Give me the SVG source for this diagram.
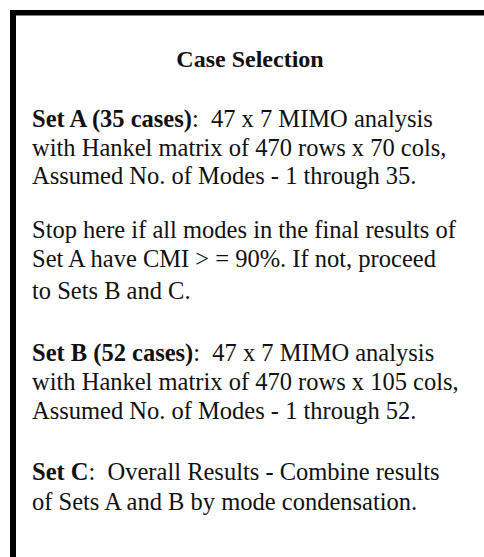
<svg xmlns="http://www.w3.org/2000/svg" width="484" height="557" viewBox="0 0 484 557">
  <style>
    .frame { fill: #000; }
    .t { font-family: "Liberation Serif", "Times New Roman", serif; font-size: 24.5px; fill: #111; white-space: pre; }
    .b { font-weight: bold; }
    .title { font-family: "Liberation Serif", "Times New Roman", serif; font-size: 24px; font-weight: bold; fill: #111; text-anchor: middle; }
  </style>
  <rect width="484" height="557" fill="#fff"/>
  <!-- open frame: heavy left rule and top rule -->
  <g id="frame">
    <rect class="frame" x="10" y="10" width="6" height="547"/>
    <rect class="frame" x="10" y="10" width="474" height="5.5"/>
  </g>
  <g id="case-selection">
    <text class="title" x="250" y="67">Case Selection</text>
    <text class="t" x="32" y="127" xml:space="preserve"><tspan class="b">Set A (35 cases)</tspan>:  47 x 7 MIMO analysis</text>
    <text class="t" x="32" y="155.5">with Hankel matrix of 470 rows x 70 cols,</text>
    <text class="t" x="32" y="184">Assumed No. of Modes - 1 through 35.</text>
    <text class="t" x="32" y="238">Stop here if all modes in the final results of</text>
    <text class="t" x="32" y="267">Set A have CMI &gt; = 90%. If not, proceed</text>
    <text class="t" x="32" y="299">to Sets B and C.</text>
    <text class="t" x="32" y="361" xml:space="preserve"><tspan class="b">Set B (52 cases)</tspan>:  47 x 7 MIMO analysis</text>
    <text class="t" x="32" y="390">with Hankel matrix of 470 rows x 105 cols,</text>
    <text class="t" x="32" y="419">Assumed No. of Modes - 1 through 52.</text>
    <text class="t" x="32" y="480" xml:space="preserve"><tspan class="b">Set C</tspan>:  Overall Results - Combine results</text>
    <text class="t" x="32" y="510">of Sets A and B by mode condensation.</text>
  </g>
</svg>
